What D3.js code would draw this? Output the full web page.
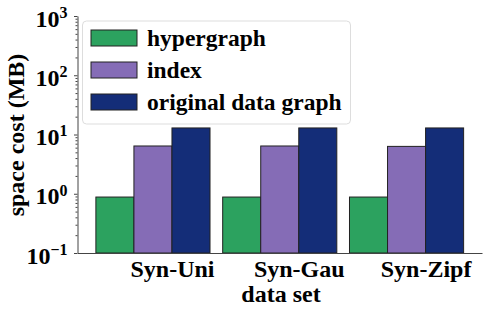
<!DOCTYPE html>
<html>
<head>
<meta charset="utf-8">
<script src="https://cdn.jsdelivr.net/npm/d3@7"></script>
<style>
  body { margin: 0; background: #fff; }
  .axis path, .axis line { stroke: #444; }
</style>
</head>
<body>
<script>
// data
var datasets = ["Syn-Uni", "Syn-Gau", "Syn-Zipf"];
var seriesNames = ["hypergraph", "index", "original data graph"];
var hypergraph = [0.88, 0.88, 0.88];
var index = [6.4, 6.4, 6.3];
var original = [12.9, 12.9, 12.9];
var majorTicks = [0.1, 1, 10, 100, 1000];
var colors = ["#2ca25f", "#856cb6", "#142d78"];

var series = [hypergraph, index, original];
var barW = 0.3;
var FONT = "'Liberation Serif', 'Times New Roman', serif";

var svg = d3.select("body").append("svg")
    .attr("width", 488)
    .attr("height", 311);

// set the ranges
var x = d3.scaleLinear().domain([-0.295, 2.895]).range([77.5, 482]);
var y = d3.scaleLog().domain([0.1, 1000]).range([253, 16]);

// minor ticks
var minor = [];
majorTicks.slice(0, -1).forEach(function (m) {
    for (var k = 2; k <= 9; k++) minor.push(m * k);
});

// bars
series.forEach(function (vals, s) {
    svg.append("g").selectAll("rect")
        .data(vals)
        .enter().append("rect")
        .attr("x", function (d, i) { return x(i + s * barW - barW / 2); })
        .attr("width", x(barW) - x(0))
        .attr("y", function (d) { return y(d); })
        .attr("height", function (d) { return y(0.1) - y(d); })
        .attr("fill", colors[s])
        .attr("stroke", "#222")
        .attr("stroke-width", 1);
});

// Y axis minor
svg.append("g")
    .attr("class", "axis")
    .attr("transform", "translate(77.5,0)")
    .call(d3.axisLeft(y).tickValues(minor).tickSize(2).tickFormat(""))
    .select(".domain").remove();

// Y axis major
var yAxis = svg.append("g")
    .attr("class", "axis")
    .attr("transform", "translate(77.5,0)")
    .call(d3.axisLeft(y).tickValues(majorTicks).tickSize(3.5).tickSizeOuter(0).tickFormat(""));

yAxis.selectAll(".tick").append("text")
    .attr("x", -10)
    .attr("dy", "0.42em")
    .attr("text-anchor", "end")
    .style("font-family", FONT)
    .style("font-weight", "bold")
    .style("font-size", "24px")
    .attr("fill", "#000")
    .each(function (d) {
        var t = d3.select(this);
        t.append("tspan").text("10");
        t.append("tspan")
            .attr("dy", "-0.55em")
            .style("font-size", "16px")
            .text(String(Math.round(Math.log10(d))).replace("-", "\u2212"));
    });

// X axis
var xAxis = svg.append("g")
    .attr("class", "axis")
    .attr("transform", "translate(0,253)")
    .call(d3.axisBottom(x).tickValues([0.45, 1.45, 2.45]).tickSize(0).tickSizeOuter(0)
        .tickFormat(function (d, i) { return datasets[i]; }));

xAxis.selectAll(".tick text")
    .attr("y", 7)
    .attr("dy", "0.71em")
    .attr("fill", "#000")
    .style("font-family", FONT)
    .style("font-weight", "bold")
    .style("font-size", "24px");

// axis labels
svg.append("text")
    .attr("x", 281)
    .attr("y", 302)
    .attr("text-anchor", "middle")
    .style("font-family", FONT)
    .style("font-weight", "bold")
    .style("font-size", "24px")
    .text("data set");

svg.append("text")
    .attr("transform", "translate(24,135) rotate(-90)")
    .attr("text-anchor", "middle")
    .style("font-family", FONT)
    .style("font-weight", "bold")
    .style("font-size", "24px")
    .text("space cost (MB)");

// legend
var legend = svg.append("g");
legend.append("rect")
    .attr("x", 82.5).attr("y", 21)
    .attr("width", 268).attr("height", 103)
    .attr("rx", 4)
    .attr("fill", "#fff")
    .attr("fill-opacity", 0.85)
    .attr("stroke", "#ddd");

var items = legend.selectAll(".item")
    .data(seriesNames)
    .enter().append("g")
    .attr("transform", function (d, i) { return "translate(91," + (30 + i * 32) + ")"; });

items.append("rect")
    .attr("width", 46).attr("height", 16)
    .attr("fill", function (d, i) { return colors[i]; })
    .attr("stroke", "#222");

items.append("text")
    .attr("x", 56)
    .attr("y", 8)
    .attr("dy", "0.35em")
    .style("font-family", FONT)
    .style("font-weight", "bold")
    .style("font-size", "23.5px")
    .text(function (d) { return d; });
</script>
</body>
</html>
